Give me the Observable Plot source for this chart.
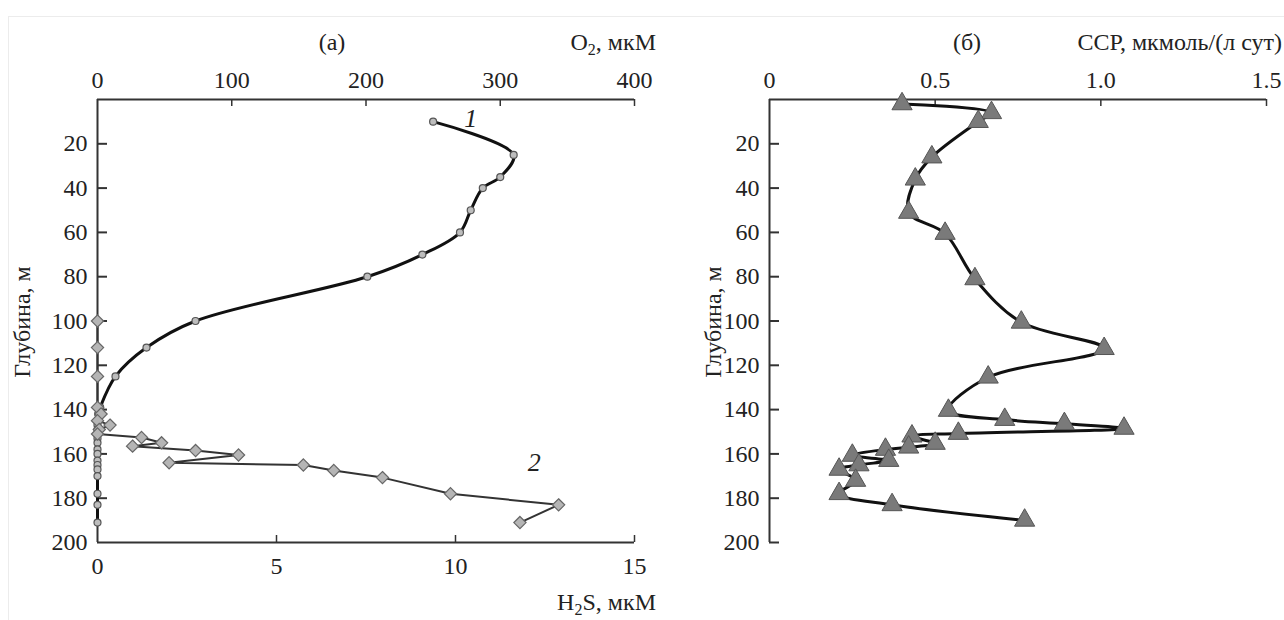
<!DOCTYPE html>
<html><head><meta charset="utf-8">
<script src="https://cdn.jsdelivr.net/npm/d3@7"></script>
<script src="https://cdn.jsdelivr.net/npm/@observablehq/plot@0.6"></script>
<style>
body{margin:0;background:#fff;}
#wrap{position:relative;width:1284px;height:620px;overflow:hidden;font-family:"Liberation Serif","Times New Roman",serif;color:#222;}
#wrap svg{position:absolute;top:0;font-family:"Liberation Serif",serif !important;}
#wrap svg text{font-family:"Liberation Serif",serif;}
.t{position:absolute;font-size:24px;line-height:24px;white-space:nowrap;color:#222;}
.t sub{font-size:16px;vertical-align:-5px;line-height:0;}
#frame{position:absolute;left:8px;top:16px;width:1400px;height:700px;border-top:1px solid #ececec;border-left:1px solid #ececec;}
</style></head><body>
<div id="wrap">
  <div id="frame"></div>
</div>
<script>
// ---- data ----
const depthTicks = [20,40,60,80,100,120,140,160,180,200];
const o2Ticks = [0,100,200,300,400];
const h2sTicks = [0,5,10,15];
const ccpTicks = [0,0.5,1.0,1.5];

// Curve 1: O2, µM
const o2Depth = [10,25,35,40,50,60,70,80,100,112,125,139,142,145,147,149,151,153,155,158,160,163,165,167,170,178,183,191];
const o2Value = [250,310,300,287,278,270,242,201,73,36.5,13.4,2,0.5,0,0,0,0,0,0,0,0,0,0,0,0,0,0,0];

// Curve 2: H2S, µM
const h2sDepth = [100,112,125,139,142,145,147,149,151,152.6,155,156.5,158.5,160.5,164,165,167.5,170.7,178,183,191];
const h2sValue = [0,0,0,0,0.1,0,0.35,0.05,0,1.23,1.79,0.98,2.74,3.94,2.0,5.75,6.6,7.96,9.86,12.88,11.8];

// Panel (б): CCP, µmol/(l·day)
const ccpDepth = [2,6,10,26,36,51,60.5,81,100.6,112.5,125.4,140.4,144.5,146.4,148.5,150.8,152,155.3,157,158,160.7,163,165,167,172,178,183,190];
const ccpValue = [0.40,0.67,0.63,0.49,0.44,0.42,0.53,0.62,0.76,1.01,0.66,0.54,0.71,0.89,1.07,0.57,0.43,0.50,0.42,0.35,0.25,0.36,0.27,0.21,0.26,0.21,0.37,0.77];

// Curve labels
const label1 = [{text:"1", o2:278, depth:8.6}];
const label2 = [{text:"2", h2s:12.2, depth:164}];

const o2Data = o2Depth.map((d,i)=>({depth:d, v:o2Value[i]}));
const h2sData = h2sDepth.map((d,i)=>({depth:d, v:h2sValue[i]}));
const ccpData = ccpDepth.map((d,i)=>({depth:d, v:ccpValue[i]}));

const FONT = "Liberation Serif";
const H = 620, MT = 99, MB = 78;
const FH = H - MT - MB;
const axisCol = "#333";
const style = {background:"transparent", fontFamily:FONT, fontSize:"24px", color:"#222"};
const axisText = {fontSize:24, fontFamily:FONT, fill:"#222", label:null, tickSize:0};

const wrap = document.getElementById("wrap");

// ---------- Left panel: O2 layer ----------
const LW = 680, LML = 97, LMR = 46, LFW = LW - LML - LMR;
const leftO2 = Plot.plot({
  width:LW, height:H, marginLeft:LML, marginRight:LMR, marginTop:MT, marginBottom:MB,
  style,
  x:{domain:[0,400]},
  y:{domain:[0,200], reverse:true},
  marks:[
    Plot.ruleX([0], {stroke:axisCol, strokeWidth:2}),
    Plot.ruleY([0], {stroke:axisCol, strokeWidth:2}),
    Plot.tickY(depthTicks.filter(d=>d<200), {y:d=>d, stroke:axisCol, strokeWidth:2, insetRight:LFW-10}),
    Plot.tickX(o2Ticks.filter(d=>d>0), {x:d=>d, stroke:axisCol, strokeWidth:1.5, insetBottom:FH-7}),
    Plot.axisX({...axisText, anchor:"top", ticks:o2Ticks, tickPadding:12}),
    Plot.axisY({...axisText, anchor:"left", ticks:depthTicks, tickPadding:10}),
    Plot.line(o2Data, {x:"v", y:"depth", curve:"catmull-rom", stroke:"#111", strokeWidth:3}),
    Plot.dot(o2Data, {x:"v", y:"depth", r:3.5, fill:"#bdbdbd", stroke:"#555", strokeWidth:1.2}),
    Plot.text(label1, {x:"o2", y:"depth", text:"text", fontSize:26, fontStyle:"italic", fontFamily:FONT, fill:"#222"})
  ]
});
leftO2.style.left = "0px";
wrap.appendChild(leftO2);

// ---------- Left panel: H2S layer ----------
const leftH2S = Plot.plot({
  width:LW, height:H, marginLeft:LML, marginRight:LMR, marginTop:MT, marginBottom:MB,
  style,
  x:{domain:[0,15]},
  y:{domain:[0,200], reverse:true, axis:null},
  marks:[
    Plot.ruleY([200], {stroke:axisCol, strokeWidth:2}),
    Plot.tickX(h2sTicks.filter(d=>d>0), {x:d=>d, stroke:axisCol, strokeWidth:1.5, insetTop:FH-7}),
    Plot.axisX({...axisText, anchor:"bottom", ticks:h2sTicks, tickPadding:14}),
    Plot.line(h2sData, {x:"v", y:"depth", stroke:"#333", strokeWidth:2}),
    Plot.dot(h2sData, {x:"v", y:"depth", symbol:"diamond2", r:5.5, fill:"#b5b5b5", stroke:"#666", strokeWidth:1.2}),
    Plot.text(label2, {x:"h2s", y:"depth", text:"text", fontSize:26, fontStyle:"italic", fontFamily:FONT, fill:"#222"})
  ]
});
leftH2S.style.left = "0px";
wrap.appendChild(leftH2S);

// ---------- Right panel: CCP ----------
const RW = 604, RML = 89, RMR = 18, RFW = RW - RML - RMR;
const right = Plot.plot({
  width:RW, height:H, marginLeft:RML, marginRight:RMR, marginTop:MT, marginBottom:MB,
  style,
  x:{domain:[0,1.5]},
  y:{domain:[0,200], reverse:true},
  marks:[
    Plot.ruleX([0], {stroke:axisCol, strokeWidth:2}),
    Plot.ruleY([0], {stroke:axisCol, strokeWidth:2}),
    Plot.tickY(depthTicks, {y:d=>d, stroke:axisCol, strokeWidth:2, insetRight:RFW-10}),
    Plot.tickX(ccpTicks.filter(d=>d>0), {x:d=>d, stroke:axisCol, strokeWidth:1.5, insetBottom:FH-7}),
    Plot.axisX({...axisText, anchor:"top", ticks:ccpTicks, tickPadding:12,
      tickFormat:d=> d===0 ? "0" : d.toFixed(1)}),
    Plot.axisY({...axisText, anchor:"left", ticks:depthTicks, tickPadding:10}),
    Plot.line(ccpData, {x:"v", y:"depth", curve:"catmull-rom", stroke:"#111", strokeWidth:3}),
    Plot.dot(ccpData, {x:"v", y:"depth", symbol:"triangle", r:7.5, fill:"#7a7a7a", stroke:"#555", strokeWidth:1})
  ]
});
right.style.left = "680px";
wrap.appendChild(right);

// ---------- Titles / labels ----------
function addText(html, css){
  const d = document.createElement("div");
  d.className = "t";
  d.innerHTML = html;
  Object.assign(d.style, css);
  wrap.appendChild(d);
  return d;
}
addText("(а)", {left:"332px", top:"30px", transform:"translateX(-50%)"});
addText("O<sub>2</sub>, мкМ", {right:(1284-656)+"px", top:"30px"});
addText("H<sub>2</sub>S, мкМ", {right:(1284-656)+"px", top:"590px"});
addText("(б)", {left:"967px", top:"30px", transform:"translateX(-50%)"});
addText("ССР, мкмоль/(л сут)", {right:"2px", top:"30px"});
addText("Глубина, м", {left:"22px", top:"322px", transform:"translate(-50%,-50%) rotate(-90deg)"});
addText("Глубина, м", {left:"713px", top:"322px", transform:"translate(-50%,-50%) rotate(-90deg)"});
</script>
</body></html>
